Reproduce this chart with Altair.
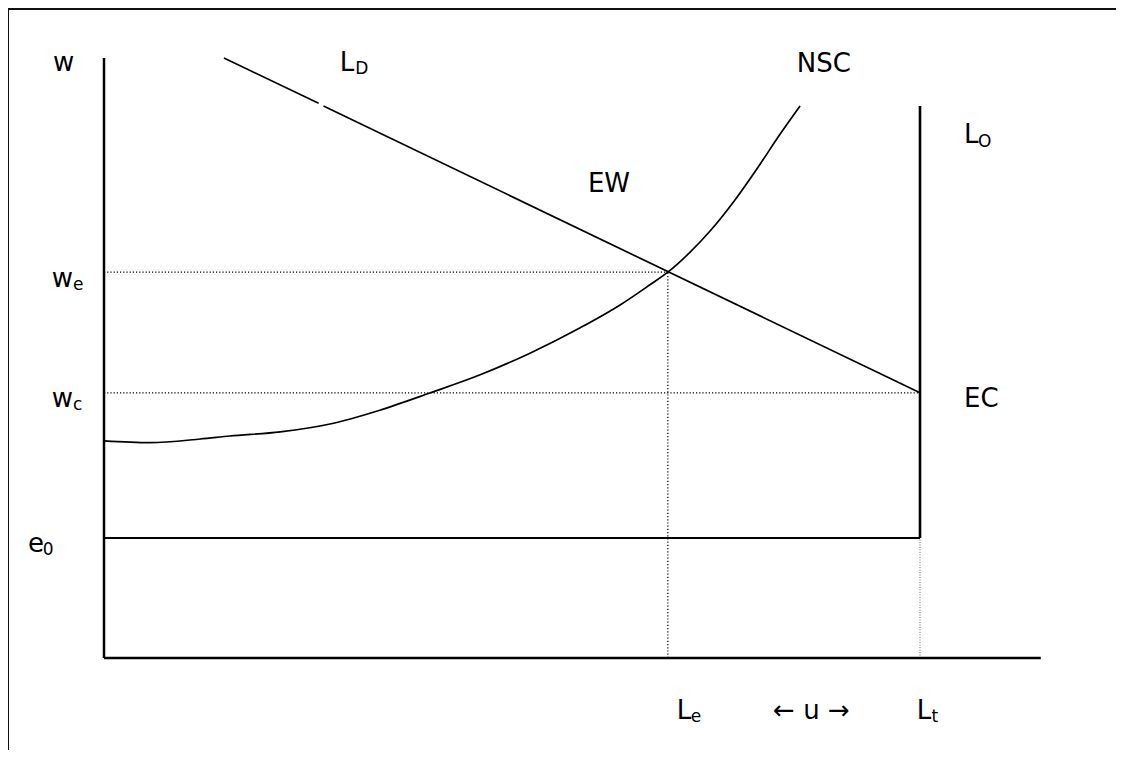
import altair as alt
import pandas as pd

# Economic values (diagram units)
LE = 69.1      # employment level L_e
LT = 100.0     # total labour force L_t
WE = 64.3      # efficiency wage w_e
WC = 44.2      # market-clearing wage w_c
E0 = 20.0      # minimum effort level e_0
LO_TOP = 92.0
X_END = 114.8
Y_END = 100.0

# Labour demand line (with a small break as in the source)
ld_x = [14.7, 26.3, 26.9, 100.0]
ld_y = [100.0, 92.45, 92.0, 44.2]

# No-shirking condition curve
nsc_x = [0.0, 5.6, 11.8, 15.4, 21.6, 27.7, 33.8, 40.0, 46.1, 52.2, 58.3, 63.2, 66.9, 69.1, 71.8, 74.3, 77.3, 80.4, 82.8, 85.3]
nsc_y = [36.2, 35.9, 36.5, 37.0, 37.7, 39.0, 41.3, 44.2, 47.2, 50.8, 55.0, 58.8, 62.2, 64.3, 67.6, 71.2, 76.3, 82.3, 87.2, 92.0]

# Labels
lab_text = ["w", "L", "NSC", "L", "EW", "w", "w", "EC", "e", "L", "← u →", "L"]
lab_x = [-6.25, 28.9, 84.9, 105.4, 59.3, -6.4, -6.4, 105.4, -9.3, 70.2, 82.0, 99.6]
lab_y = [97.8, 97.8, 97.7, 85.8, 77.7, 61.8, 41.8, 41.8, 17.7, -10.2, -10.2, -10.2]
sub_text = ["D", "O", "e", "c", "0", "e", "t"]
sub_x = [30.8, 107.1, -3.8, -3.8, -7.5, 71.9, 101.4]
sub_y = [97.3, 85.2, 61.3, 41.3, 17.2, -10.7, -10.7]

xs = alt.Scale(domain=[0, 100], range=[93, 909], zero=False, nice=False)
ys = alt.Scale(domain=[0, 100], range=[648, 48], zero=False, nice=False)


def X(f="x"):
    return alt.X(f"{f}:Q", scale=xs, axis=None)


def Y(f="y"):
    return alt.Y(f"{f}:Q", scale=ys, axis=None)


def seg(rows):
    return pd.DataFrame(rows, columns=["x", "y", "x2", "y2"])


axes_df = seg([[0, 0, X_END, 0], [0, 0, 0, Y_END]])
ld_df = seg([[ld_x[0], ld_y[0], ld_x[1], ld_y[1]], [ld_x[2], ld_y[2], ld_x[3], ld_y[3]]])
e0_df = seg([[0, E0, LT, E0]])
lo_df = seg([[LT, E0, LT, LO_TOP]])
dot_df = seg([[0, WE, LE, WE], [LE, 0, LE, WE], [0, WC, LT, WC]])
dot2_df = seg([[LT, 0, LT, E0]])
nsc_df = pd.DataFrame({"x": nsc_x, "y": nsc_y})
lab_df = pd.DataFrame({"t": lab_text, "x": lab_x, "y": lab_y})
sub_df = pd.DataFrame({"t": sub_text, "x": sub_x, "y": sub_y})


def rules(df, width, color="black", dash=None):
    kw = dict(color=color, strokeWidth=width)
    if dash:
        kw["strokeDash"] = dash
    return alt.Chart(df).mark_rule(**kw).encode(
        x=X("x"), y=Y("y"), x2=alt.X2("x2"), y2=alt.Y2("y2"))


border_left = alt.Chart(pd.DataFrame({"a": [0]})).mark_rule(color="#111", strokeWidth=2).encode(
    x=alt.value(-3), y=alt.value(-1), y2=alt.value(760))
border_top = alt.Chart(pd.DataFrame({"a": [0]})).mark_rule(color="#111", strokeWidth=2).encode(
    x=alt.value(-4), x2=alt.value(1120), y=alt.value(-1))

nsc = alt.Chart(nsc_df).mark_line(color="black", strokeWidth=1.7, interpolate="monotone").encode(
    x=X("x"), y=Y("y"))

labels = alt.Chart(lab_df).mark_text(font="DejaVu Sans", fontSize=26, align="left",
                                     baseline="alphabetic", color="black").encode(
    x=X("x"), y=Y("y"), text="t:N")
subs = alt.Chart(sub_df).mark_text(font="DejaVu Sans", fontSize=17, align="left",
                                   baseline="alphabetic", color="black").encode(
    x=X("x"), y=Y("y"), text="t:N")

chart = alt.layer(
    border_left, border_top,
    rules(dot_df, 1.2, "#000", [1.2, 2]),
    rules(dot2_df, 1, "#666", [1, 1.5]),
    rules(axes_df, 2.5),
    rules(e0_df, 2.2),
    rules(lo_df, 2.6),
    rules(ld_df, 1.7),
    nsc, labels, subs,
).properties(
    width=1105, height=740,
    autosize=alt.AutoSizeParams(type="none"),
    padding={"left": 3, "top": 2, "right": 0, "bottom": 0},
).configure_view(strokeWidth=0, stroke="transparent")

chart.save("out.html", embed_options={"renderer": "svg", "actions": False})
